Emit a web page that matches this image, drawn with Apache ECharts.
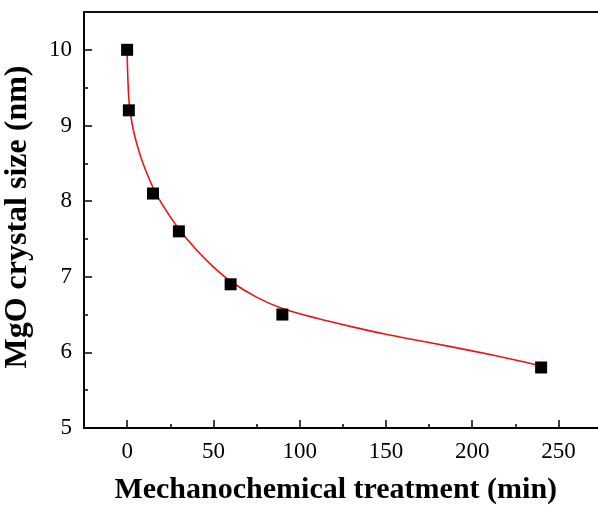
<!DOCTYPE html>
<html>
<head>
<meta charset="utf-8">
<script src="https://cdn.jsdelivr.net/npm/echarts@6/dist/echarts.min.js"></script>
<style>
  html, body { margin: 0; padding: 0; background: #fff; }
  #main { width: 598px; height: 515px; }
</style>
</head>
<body>
<div id="main"></div>
<script>
// measured points (min, nm)
const treatTime = [0, 1, 15, 30, 60, 90, 240];
const crystalSize = [10, 9.2, 8.1, 7.6, 6.9, 6.5, 5.8];

// fitted red curve
const fitTime = [0, 0.3, 1, 2, 4, 7, 10, 15, 20, 30, 40, 50, 60, 75, 90, 110, 130, 150, 175, 200, 225, 240];
const fitSize = [10, 9.7, 9.35, 9.15, 8.9, 8.65, 8.45, 8.18, 7.97, 7.63, 7.36, 7.13, 6.94, 6.73, 6.58, 6.45, 6.34, 6.24, 6.13, 6.02, 5.9, 5.82];

// tick positions
const xMajor = [0, 50, 100, 150, 200, 250];
const xMinor = [25, 75, 125, 175, 225];
const yMajor = [5, 6, 7, 8, 9, 10];
const yMinor = [5.5, 6.5, 7.5, 8.5, 9.5];

let chart = echarts.init(document.getElementById('main'), null, { renderer: 'canvas' });

const font = '"Liberation Serif", "Times New Roman", serif';
const blackLine = { color: '#000', width: 1.8 };

// second axis only used to draw the short minor ticks
function minorAxis(min, max, ticks, pos) {
  return {
    type: 'value', min: min, max: max, position: pos,
    axisLine: { show: false, onZero: false },
    axisTick: { show: true, inside: true, length: 4, customValues: ticks, lineStyle: { color: '#000', width: 1.5 } },
    axisLabel: { show: false },
    splitLine: { show: false }
  };
}

let option = {
  backgroundColor: '#fff',
  animation: false,
  grid: {
    left: 84, right: -3.5, top: 12, bottom: 87,
    outerBoundsMode: 'none', containLabel: false,
    show: true, borderColor: '#111', borderWidth: 1.8
  },
  xAxis: [
    {
      type: 'value',
      min: -25,
      max: 275,
      position: 'bottom',
      axisLine: { show: true, onZero: false, lineStyle: blackLine },
      axisTick: { show: true, inside: true, length: 8, customValues: xMajor, lineStyle: { color: '#000', width: 1.5 } },
      axisLabel: { color: '#000', fontFamily: font, fontSize: 23, margin: 12, customValues: xMajor },
      splitLine: { show: false },
      name: 'Mechanochemical treatment (min)',
      nameLocation: 'middle',
      nameGap: 47,
      nameTextStyle: { color: '#000', fontFamily: font, fontSize: 30, fontWeight: 'bold', padding: [0, 14, 0, 0] }
    },
    minorAxis(-25, 275, xMinor, 'bottom')
  ],
  yAxis: [
    {
      type: 'value',
      min: 5,
      max: 10.5,
      position: 'left',
      axisLine: { show: true, onZero: false, lineStyle: blackLine },
      axisTick: { show: true, inside: true, length: 8, customValues: yMajor, lineStyle: { color: '#000', width: 1.5 } },
      axisLabel: { color: '#000', fontFamily: font, fontSize: 23, margin: 12, customValues: yMajor },
      splitLine: { show: false },
      name: 'MgO crystal size (nm)',
      nameLocation: 'middle',
      nameGap: 50,
      nameTextStyle: { color: '#000', fontFamily: font, fontSize: 32, fontWeight: 'bold', padding: [0, 0, 0, 6] }
    },
    minorAxis(5, 10.5, yMinor, 'left')
  ],
  series: [
    {
      type: 'line',
      data: fitTime.map(function (t, i) { return [t, fitSize[i]]; }),
      smooth: 0.3,
      showSymbol: false,
      lineStyle: { color: '#e8141b', width: 1.6 },
      z: 2
    },
    {
      type: 'scatter',
      data: treatTime.map(function (t, i) { return [t, crystalSize[i]]; }),
      symbol: 'rect',
      symbolSize: 12,
      itemStyle: { color: '#000', opacity: 1 },
      z: 3
    }
  ]
};

chart.setOption(option);
</script>
</body>
</html>
